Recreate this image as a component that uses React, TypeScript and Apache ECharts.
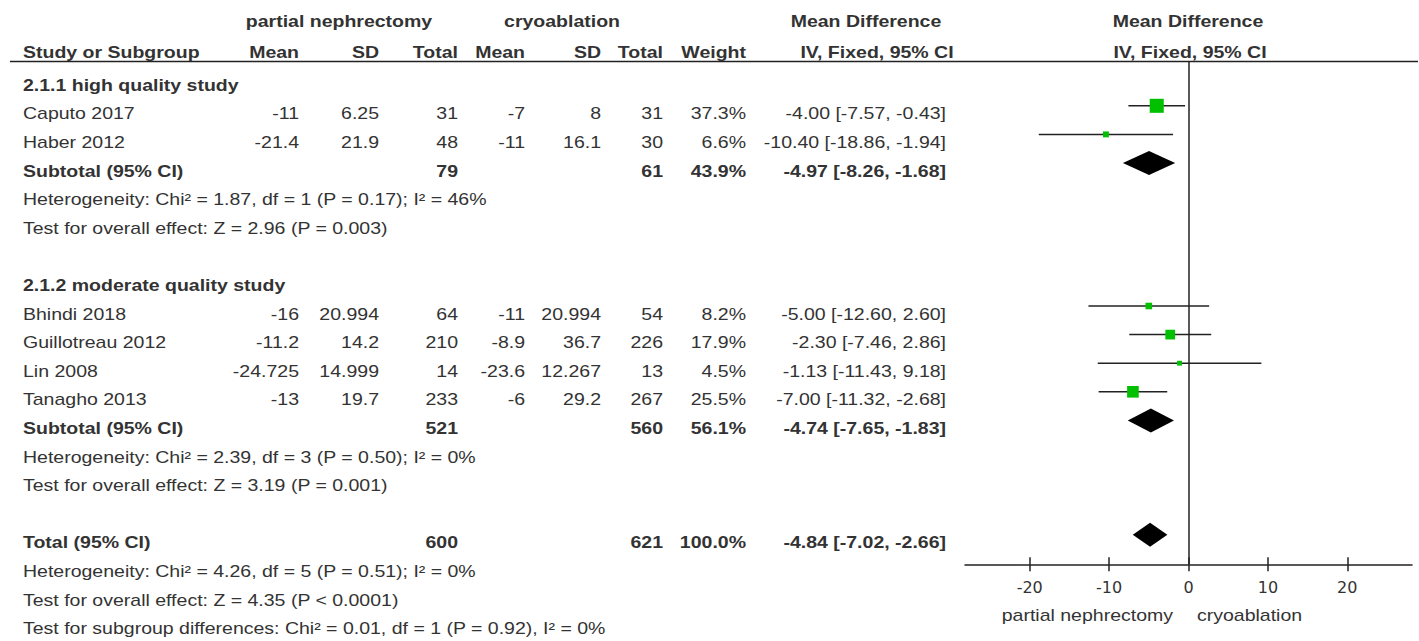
import { useEffect, useRef } from "react";
import * as echarts from "echarts";

// ---------------- data ----------------
const studyNames = ["Caputo 2017", "Haber 2012", "Bhindi 2018", "Guillotreau 2012", "Lin 2008", "Tanagho 2013"];
const studyGroup = [0, 0, 1, 1, 1, 1];
const pnMean = [-11, -21.4, -16, -11.2, -24.725, -13];
const pnSD = [6.25, 21.9, 20.994, 14.2, 14.999, 19.7];
const pnTotal = [31, 48, 64, 210, 14, 233];
const crMean = [-7, -11, -11, -8.9, -23.6, -6];
const crSD = [8, 16.1, 20.994, 36.7, 12.267, 29.2];
const crTotal = [31, 30, 54, 226, 13, 267];
const weight = [37.3, 6.6, 8.2, 17.9, 4.5, 25.5];
const md = [-4.0, -10.4, -5.0, -2.3, -1.13, -7.0];
const ciLow = [-7.57, -18.86, -12.6, -7.46, -11.43, -11.32];
const ciHigh = [-0.43, -1.94, 2.6, 2.86, 9.18, -2.68];

const groupNames = ["2.1.1 high quality study", "2.1.2 moderate quality study"];
const subPnTotal = [79, 521];
const subCrTotal = [61, 560];
const subWeight = [43.9, 56.1];
const subMD = [-4.97, -4.74];
const subLow = [-8.26, -7.65];
const subHigh = [-1.68, -1.83];
const subHeterogeneity = [
  "Heterogeneity: Chi² = 1.87, df = 1 (P = 0.17); I² = 46%",
  "Heterogeneity: Chi² = 2.39, df = 3 (P = 0.50); I² = 0%",
];
const subOverall = [
  "Test for overall effect: Z = 2.96 (P = 0.003)",
  "Test for overall effect: Z = 3.19 (P = 0.001)",
];

const totalPn = 600;
const totalCr = 621;
const totalWeight = 100.0;
const totalMD = -4.84;
const totalLow = -7.02;
const totalHigh = -2.66;
const totalNotes = [
  "Heterogeneity: Chi² = 4.26, df = 5 (P = 0.51); I² = 0%",
  "Test for overall effect: Z = 4.35 (P < 0.0001)",
  "Test for subgroup differences: Chi² = 0.01, df = 1 (P = 0.92), I² = 0%",
];

const xTicks = [-20, -10, 0, 10, 20];
const favoursLeft = "partial nephrectomy";
const favoursRight = "cryoablation";

// ---------------- layout / style ----------------
const FONT = "'Liberation Sans', Arial, Helvetica, sans-serif";
const FS = 16;
const SX = 1.22;
const TXT = "#333";
const ROW0 = 85.5;
const ROWH = 28.6;
const PLOT_SHIFT = -8.3;
const GRID_TOP = 61.5;
const AXIS_Y = 564.3;
const H = 641;
const W = 1419;

const COL = {
  name: 23,
  pnMean: 299,
  pnSD: 379,
  pnTotal: 458,
  crMean: 525,
  crSD: 601,
  crTotal: 663,
  weight: 746,
  ci: 946,
};

const fmtCI = (m: number, l: number, h: number) => `${m.toFixed(2)} [${l.toFixed(2)}, ${h.toFixed(2)}]`;

function txt(text: string, x: number, y: number, align: string, bold = false) {
  return {
    type: "text",
    x,
    y,
    scaleX: SX,
    silent: true,
    style: {
      text,
      fill: TXT,
      fontSize: FS,
      fontWeight: bold ? "bold" : "normal",
      fontFamily: FONT,
      align,
      verticalAlign: "middle",
      textAlign: align,
      textVerticalAlign: "middle",
    },
  };
}

function buildRows() {
  const studyRow: number[] = [];
  const subRow: number[] = [];
  const texts: any[] = [];
  let r = 0;
  const ry = (i: number) => ROW0 + ROWH * i;
  groupNames.forEach((g, gi) => {
    texts.push(txt(g, COL.name, ry(r), "left", true));
    r++;
    studyNames.forEach((s, i) => {
      if (studyGroup[i] !== gi) return;
      studyRow[i] = r;
      const y = ry(r);
      texts.push(txt(s, COL.name, y, "left"));
      texts.push(txt(String(pnMean[i]), COL.pnMean, y, "right"));
      texts.push(txt(String(pnSD[i]), COL.pnSD, y, "right"));
      texts.push(txt(String(pnTotal[i]), COL.pnTotal, y, "right"));
      texts.push(txt(String(crMean[i]), COL.crMean, y, "right"));
      texts.push(txt(String(crSD[i]), COL.crSD, y, "right"));
      texts.push(txt(String(crTotal[i]), COL.crTotal, y, "right"));
      texts.push(txt(weight[i].toFixed(1) + "%", COL.weight, y, "right"));
      texts.push(txt(fmtCI(md[i], ciLow[i], ciHigh[i]), COL.ci, y, "right"));
      r++;
    });
    subRow[gi] = r;
    const y = ry(r);
    texts.push(txt("Subtotal (95% CI)", COL.name, y, "left", true));
    texts.push(txt(String(subPnTotal[gi]), COL.pnTotal, y, "right", true));
    texts.push(txt(String(subCrTotal[gi]), COL.crTotal, y, "right", true));
    texts.push(txt(subWeight[gi].toFixed(1) + "%", COL.weight, y, "right", true));
    texts.push(txt(fmtCI(subMD[gi], subLow[gi], subHigh[gi]), COL.ci, y, "right", true));
    r++;
    texts.push(txt(subHeterogeneity[gi], COL.name, ry(r), "left"));
    r++;
    texts.push(txt(subOverall[gi], COL.name, ry(r), "left"));
    r++;
    r++; // blank
  });
  const totalRow = r;
  const y = ry(r);
  texts.push(txt("Total (95% CI)", COL.name, y, "left", true));
  texts.push(txt(String(totalPn), COL.pnTotal, y, "right", true));
  texts.push(txt(String(totalCr), COL.crTotal, y, "right", true));
  texts.push(txt(totalWeight.toFixed(1) + "%", COL.weight, y, "right", true));
  texts.push(txt(fmtCI(totalMD, totalLow, totalHigh), COL.ci, y, "right", true));
  r++;
  totalNotes.forEach((n) => {
    texts.push(txt(n, COL.name, ry(r), "left"));
    r++;
  });
  return { studyRow, subRow, totalRow, texts };
}

export default function App() {
  const ref = useRef<HTMLDivElement>(null);

  useEffect(() => {
    if (!ref.current) return;
    const chart = echarts.init(ref.current, null, { renderer: "svg" });
    const { studyRow, subRow, totalRow, texts } = buildRows();

    const headerY1 = 22;
    const headerY2 = 53;
    const headers = [
      txt("partial nephrectomy", 339, headerY1, "center", true),
      txt("cryoablation", 562, headerY1, "center", true),
      txt("Mean Difference", 866, headerY1, "center", true),
      txt("Mean Difference", 1188, headerY1, "center", true),
      txt("Study or Subgroup", COL.name, headerY2, "left", true),
      txt("Mean", COL.pnMean, headerY2, "right", true),
      txt("SD", COL.pnSD, headerY2, "right", true),
      txt("Total", COL.pnTotal, headerY2, "right", true),
      txt("Mean", COL.crMean, headerY2, "right", true),
      txt("SD", COL.crSD, headerY2, "right", true),
      txt("Total", COL.crTotal, headerY2, "right", true),
      txt("Weight", COL.weight, headerY2, "right", true),
      txt("IV, Fixed, 95% CI", 877, headerY2, "center", true),
      txt("IV, Fixed, 95% CI", 1190, headerY2, "center", true),
      txt(favoursLeft, 1173, 616, "right"),
      txt(favoursRight, 1197, 616, "left"),
    ];

    // y axis in row units, shifted so the plotted marks sit slightly above the text rows
    const yMin = (GRID_TOP - (ROW0 + PLOT_SHIFT)) / ROWH;
    const yMax = (AXIS_Y - (ROW0 + PLOT_SHIFT)) / ROWH;

    const ciData = studyNames.map((_, i) => [ciLow[i], ciHigh[i], studyRow[i]]);
    const sqData = studyNames.map((_, i) => ({
      value: [md[i], studyRow[i]],
      symbolSize: 2.3 * Math.sqrt(weight[i]),
    }));
    const diamondData = [
      ...groupNames.map((_, gi) => [subLow[gi], subMD[gi], subHigh[gi], subRow[gi]]),
      [totalLow, totalMD, totalHigh, totalRow],
    ];

    const xBase = {
      type: "value",
      min: -28.15,
      max: 28.15,
      position: "bottom",
      gridIndex: 0,
      splitLine: { show: false },
    };

    const option: any = {
      animation: false,
      backgroundColor: "#ffffff",
      grid: { left: 965, right: W - 1412, top: GRID_TOP, bottom: H - AXIS_Y, containLabel: false },
      xAxis: [
        {
          ...xBase,
          axisLine: { show: true, onZero: false, lineStyle: { color: "#222", width: 1.5 } },
          axisTick: { show: true, inside: false, length: 7, customValues: xTicks, lineStyle: { color: "#222", width: 1.5 } },
          axisLabel: {
            show: true,
            customValues: xTicks,
            fontFamily: "'DejaVu Sans', sans-serif",
            fontSize: 16,
            color: TXT,
            margin: 15,
          },
        },
        {
          ...xBase,
          axisLine: { show: false, onZero: false },
          axisTick: { show: true, inside: true, length: 7, customValues: xTicks, lineStyle: { color: "#222", width: 1.5 } },
          axisLabel: { show: false },
        },
      ],
      yAxis: { type: "value", min: yMin, max: yMax, inverse: true, show: false },
      graphic: [
        {
          type: "line",
          silent: true,
          shape: { x1: 10, y1: GRID_TOP, x2: 1418, y2: GRID_TOP },
          style: { stroke: "#222", lineWidth: 1.5 },
        },
        ...headers,
        ...texts,
      ],
      series: [
        {
          type: "custom",
          name: "ci",
          z: 2,
          silent: true,
          data: ciData,
          encode: { x: [0, 1], y: 2 },
          renderItem: (_p: any, api: any) => {
            const a = api.coord([api.value(0), api.value(2)]);
            const b = api.coord([api.value(1), api.value(2)]);
            return {
              type: "line",
              shape: { x1: a[0], y1: a[1], x2: b[0], y2: b[1] },
              style: { stroke: "#222", lineWidth: 1.5 },
            };
          },
          markLine: {
            silent: true,
            symbol: ["none", "none"],
            label: { show: false },
            lineStyle: { color: "#222", width: 1.5, type: "solid" },
            data: [{ xAxis: 0 }],
          },
        },
        {
          type: "scatter",
          name: "md",
          z: 3,
          silent: true,
          symbol: "rect",
          itemStyle: { color: "#00c000", opacity: 1 },
          data: sqData,
        },
        {
          type: "custom",
          name: "diamond",
          z: 3,
          silent: true,
          data: diamondData,
          encode: { x: [0, 1, 2], y: 3 },
          renderItem: (_p: any, api: any) => {
            const l = api.coord([api.value(0), api.value(3)]);
            const m = api.coord([api.value(1), api.value(3)]);
            const h = api.coord([api.value(2), api.value(3)]);
            const hh = 12;
            return {
              type: "polygon",
              shape: {
                points: [
                  [l[0], l[1]],
                  [m[0], m[1] - hh],
                  [h[0], h[1]],
                  [m[0], m[1] + hh],
                ],
              },
              style: { fill: "#000", stroke: "none" },
            };
          },
        },
      ],
    };

    chart.setOption(option);
    return () => chart.dispose();
  }, []);

  return (
    <div
      ref={ref}
      style={{ position: "absolute", left: 0, top: 0, width: W + "px", height: H + "px", background: "#fff" }}
    />
  );
}
